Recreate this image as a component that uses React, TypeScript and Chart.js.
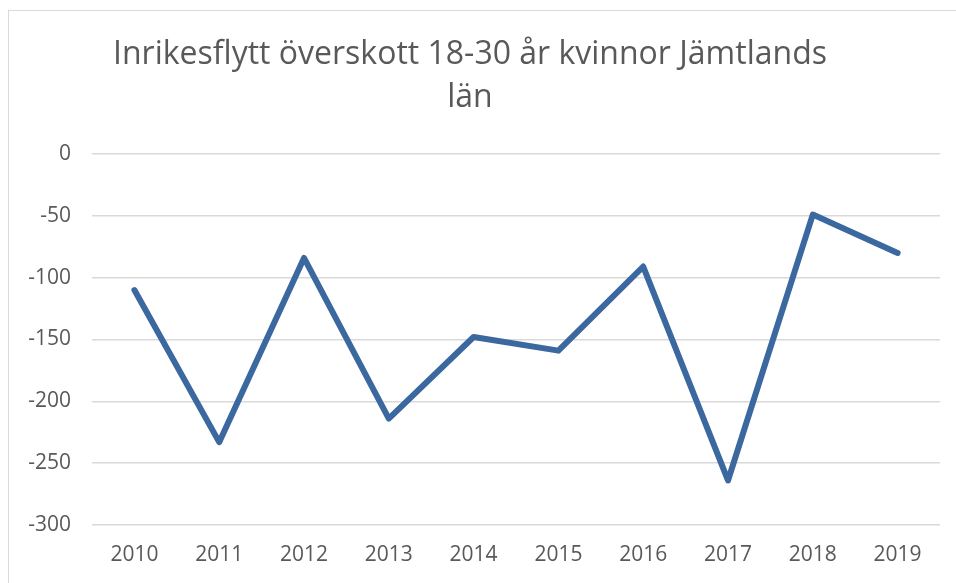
import React, { useEffect, useRef } from "react";
import { Chart, registerables } from "chart.js";

Chart.register(...registerables);

const years = ["2010", "2011", "2012", "2013", "2014", "2015", "2016", "2017", "2018", "2019"];
const values = [-110, -233, -84, -214, -148, -159, -91, -264, -49, -80];
const titleLines = ["Inrikesflytt överskott 18-30 år kvinnor Jämtlands", "län"];
const yMin = -300;
const yMax = 0;
const yStep = 50;

export default function App() {
  const ref = useRef<HTMLCanvasElement | null>(null);

  useEffect(() => {
    document.body.style.margin = "0";
    const canvas = ref.current;
    if (!canvas) return;
    const chart = new Chart(canvas, {
      type: "line",
      data: {
        labels: years,
        datasets: [
          {
            data: values,
            borderColor: "#3C68A0",
            backgroundColor: "#3C68A0",
            borderWidth: 6,
            pointRadius: 0,
            pointHoverRadius: 0,
            tension: 0,
            borderJoinStyle: "round",
            borderCapStyle: "round",
          },
        ],
      },
      options: {
        animation: false,
        responsive: false,
        maintainAspectRatio: false,
        layout: { padding: { left: 0, right: 16, top: 0, bottom: 0 } },
        plugins: {
          legend: { display: false },
          tooltip: { enabled: false },
          title: {
            display: true,
            text: titleLines,
            color: "#595959",
            font: { family: "Open Sans", size: 32, weight: "normal", lineHeight: 43 / 32 },
            padding: { top: 33, bottom: 35 },
          },
        },
        scales: {
          x: {
            offset: true,
            grid: { display: false, drawTicks: false },
            border: { display: false },
            ticks: {
              color: "#595959",
              font: { family: "Open Sans", size: 21 },
              padding: 17,
              maxRotation: 0,
            },
            afterFit: (scale: any) => {
              scale.height = 58;
            },
          },
          y: {
            min: yMin,
            max: yMax,
            grid: { color: "#d9d9d9", lineWidth: 1.5, drawTicks: false },
            border: { display: false },
            ticks: {
              stepSize: yStep,
              color: "#595959",
              font: { family: "Open Sans", size: 21 },
              padding: 21,
            },
            afterFit: (scale: any) => {
              scale.width = 92;
            },
          },
        },
      },
    });
    return () => chart.destroy();
  }, []);

  return (
    <div style={{ position: "fixed", left: 0, top: 0, width: 956, height: 583, overflow: "hidden", background: "#fff" }}>
      <div
        style={{
          position: "absolute",
          left: 8,
          top: 10,
          width: 1200,
          height: 1200,
          border: "1.5px solid #d9d9d9",
          boxSizing: "border-box",
        }}
      />
      <canvas ref={ref} width={956} height={583} style={{ position: "absolute", left: 0, top: 0, width: 956, height: 583 }} />
    </div>
  );
}
